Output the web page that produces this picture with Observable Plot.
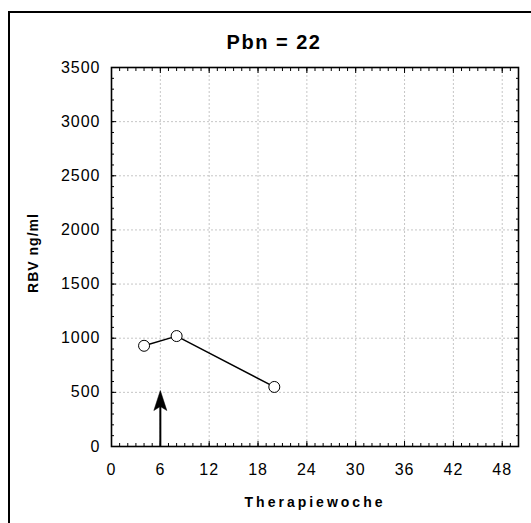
<!DOCTYPE html>
<html><head><meta charset="utf-8">
<script src="https://cdn.jsdelivr.net/npm/d3@7"></script>
<script src="https://cdn.jsdelivr.net/npm/@observablehq/plot@0.6"></script>
<style>
html,body{margin:0;padding:0;background:#fff;overflow:hidden;}
#wrap{position:relative;width:531px;height:523px;font-family:"Liberation Sans",Arial,sans-serif;}
#border{position:absolute;left:8px;top:11px;width:600px;height:600px;border-left:2px solid #000;border-top:2px solid #000;}
#title{position:absolute;left:174px;width:200px;top:32px;line-height:20px;text-align:center;font-size:20px;font-weight:bold;letter-spacing:1.5px;color:#000;}
#chart{position:absolute;left:0;top:0;}
</style>
</head><body>
<div id="wrap"><div id="border"></div><div id="chart"></div><div id="title">Pbn = 22</div></div>
<script>
const weeks = [4, 8, 20];
const rbv = [930, 1020, 550];
const xTicks = [0, 6, 12, 18, 24, 30, 36, 42, 48];
const yTicks = [0, 500, 1000, 1500, 2000, 2500, 3000, 3500];
const arrowWeek = [6];
const arrowFrom = 0;
const arrowTo = 517;
const titleText = "Pbn = 22";
const xLabel = "Therapiewoche";
const yLabel = "RBV ng/ml";

const xMinor = d3.range(0, 51, 1);
const yMinor = d3.range(0, 3501, 100);
const pts = weeks.map((w, i) => ({week: w, rbv: rbv[i]}));

const arrowHead = {
  draw(ctx) {
    ctx.moveTo(0, 0);
    ctx.lineTo(-6.5, 20);
    ctx.lineTo(0, 16);
    ctx.lineTo(6.5, 20);
    ctx.closePath();
  }
};

const grid = {stroke: "#b8b8b8", strokeOpacity: 1, strokeDasharray: "2,2", strokeWidth: 0.8};
const noText = () => "";

const chart = Plot.plot({
  width: 531, height: 523,
  marginLeft: 111, marginRight: 13, marginTop: 67, marginBottom: 77,
  style: {fontFamily: '"Liberation Sans", Arial, sans-serif', fontSize: "16px", background: "transparent", color: "#000", overflow: "visible"},
  x: {domain: [0, 50]},
  y: {domain: [0, 3500]},
  marks: [
    Plot.gridX(xTicks.filter(d => d > 0), grid),
    Plot.gridY(yTicks.filter(d => d > 0 && d < 3500), grid),
    // minor ticks
    Plot.axisX(xMinor, {anchor: "bottom", tickSize: -3, tickFormat: noText, label: null}),
    Plot.axisX(xMinor, {anchor: "top", tickSize: -3, tickFormat: noText, label: null}),
    Plot.axisY(yMinor, {anchor: "left", tickSize: -3, tickFormat: noText, label: null}),
    Plot.axisY(yMinor, {anchor: "right", tickSize: -3, tickFormat: noText, label: null}),
    // major ticks
    Plot.axisX(xTicks, {anchor: "bottom", tickSize: -5, tickFormat: noText, label: null}),
    Plot.axisX(xTicks, {anchor: "top", tickSize: -5, tickFormat: noText, label: null}),
    Plot.axisY(yTicks, {anchor: "left", tickSize: -5, tickFormat: noText, label: null}),
    Plot.axisY(yTicks, {anchor: "right", tickSize: -5, tickFormat: noText, label: null}),
    // tick labels
    Plot.axisX(xTicks, {anchor: "bottom", tickSize: 0, tickPadding: 17, label: null, fontSize: 16, tickFormat: d3.format("d")}),
    Plot.axisY(yTicks, {anchor: "left", tickSize: 0, tickPadding: 11, label: null, fontSize: 16, tickFormat: d3.format("d")}),
    Plot.frame({stroke: "#000", strokeWidth: 1.6}),
    // arrow
    Plot.ruleX(arrowWeek, {y1: arrowFrom, y2: arrowTo - 80, stroke: "#000", strokeWidth: 2}),
    Plot.dot(arrowWeek, {x: d => d, y: () => arrowTo, symbol: arrowHead, fill: "#000", stroke: "#000", strokeWidth: 0.5}),
    // data
    Plot.line(pts, {x: "week", y: "rbv", stroke: "#000", strokeWidth: 1.4}),
    Plot.dot(pts, {x: "week", y: "rbv", r: 5.5, fill: "#fff", stroke: "#000", strokeWidth: 1}),
    // axis labels
    Plot.text([xLabel], {frameAnchor: "bottom", dy: 60, fontWeight: "bold", fontSize: 14, fill: "#000"}),
    Plot.text([yLabel], {frameAnchor: "left", textAnchor: "middle", dx: -78, dy: -4, rotate: -90, fontWeight: "bold", fontSize: 14, fill: "#000"})
  ]
});
d3.select(chart).style("letter-spacing", "1px");
d3.select(chart).selectAll("text").filter(function() { return this.textContent === xLabel; }).attr("letter-spacing", "3px");
d3.select(chart).selectAll("text").filter(function() { return this.textContent === yLabel; }).attr("letter-spacing", "1px");
document.getElementById("chart").appendChild(chart);
document.getElementById("title").textContent = titleText;
</script>
</body></html>
